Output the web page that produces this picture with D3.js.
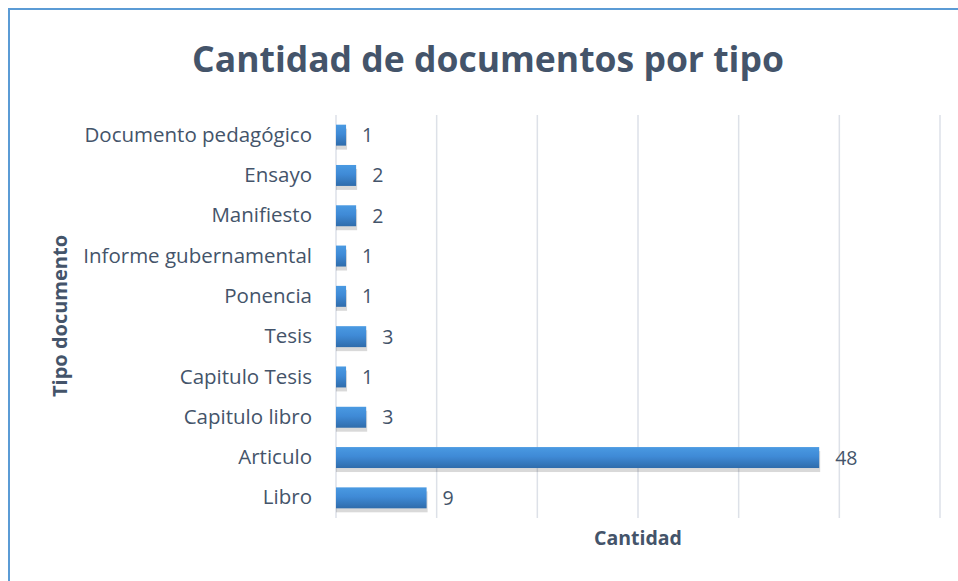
<!DOCTYPE html>
<meta charset="utf-8">
<style>
body { margin: 0; background: #fff; }
text { font-family: "Open Sans", sans-serif; }
</style>
<svg width="958" height="581"></svg>
<script src="https://d3js.org/d3.v7.min.js"></script>
<script>

// data, top to bottom as shown
var categories = ["Documento pedagógico", "Ensayo", "Manifiesto", "Informe gubernamental",
  "Ponencia", "Tesis", "Capitulo Tesis", "Capitulo libro", "Articulo", "Libro"];
var cantidad = [1, 2, 2, 1, 1, 3, 1, 3, 48, 9];
var gridTicks = [0, 10, 20, 30, 40, 50, 60];

var svg = d3.select("svg"),
    margin = {top: 115, right: 18, bottom: 63, left: 336},
    width = +svg.attr("width") - margin.left - margin.right,
    height = +svg.attr("height") - margin.top - margin.bottom;

// chart frame (runs off right/bottom edges)
svg.append("rect")
  .attr("x", 9).attr("y", 9)
  .attr("width", 1000).attr("height", 700)
  .attr("fill", "none")
  .attr("stroke", "#5b9bd5")
  .attr("stroke-width", 2);

var defs = svg.append("defs");
var grad = defs.append("linearGradient")
  .attr("id", "barGrad")
  .attr("x1", 0).attr("y1", 0).attr("x2", 0).attr("y2", 1);
grad.append("stop").attr("offset", "0%").attr("stop-color", "#4a9ae2");
grad.append("stop").attr("offset", "45%").attr("stop-color", "#3f8ad6");
grad.append("stop").attr("offset", "100%").attr("stop-color", "#2f6cab");

var g = svg.append("g").attr("transform", "translate(" + margin.left + "," + margin.top + ")");

var x = d3.scaleLinear().domain([0, 60]).range([0, 604]);
var y = d3.scaleBand().domain(categories).range([0, 403])
  .paddingInner(0.48).paddingOuter(0.24);

// gridlines
g.append("g")
  .selectAll("line")
  .data(gridTicks)
  .enter().append("line")
    .attr("x1", function(d) { return x(d); })
    .attr("x2", function(d) { return x(d); })
    .attr("y1", 0)
    .attr("y2", 403)
    .attr("stroke", "#dde1e8")
    .attr("stroke-width", 1.5);

var data = categories.map(function(c, i) { return {cat: c, val: cantidad[i]}; });

// shadows
g.append("g")
  .selectAll("rect")
  .data(data)
  .enter().append("rect")
    .attr("x", x(0))
    .attr("y", function(d) { return y(d.cat) + 4; })
    .attr("width", function(d) { return x(d.val) - x(0) + 1; })
    .attr("height", y.bandwidth())
    .attr("fill", "#000")
    .attr("opacity", 0.15);

// bars
g.append("g")
  .selectAll("rect")
  .data(data)
  .enter().append("rect")
    .attr("x", x(0))
    .attr("y", function(d) { return y(d.cat); })
    .attr("width", function(d) { return x(d.val) - x(0); })
    .attr("height", y.bandwidth())
    .attr("fill", "url(#barGrad)");

// value labels
g.append("g")
  .selectAll("text")
  .data(data)
  .enter().append("text")
    .attr("x", function(d) { return x(d.val) + 16; })
    .attr("y", function(d) { return y(d.cat) + y.bandwidth() / 2; })
    .attr("dy", "0.36em")
    .attr("fill", "#44546a")
    .style("font-size", "19.5px")
    .text(function(d) { return d.val; });

// category axis (no line, no ticks)
var yAxis = g.append("g")
  .call(d3.axisLeft(y).tickSize(0).tickPadding(24));
yAxis.select(".domain").remove();
yAxis.selectAll("text")
  .attr("fill", "#44546a")
  .style("font-family", "'Open Sans', sans-serif")
  .style("font-size", "20.5px");

// title
svg.append("text")
  .attr("x", 488)
  .attr("y", 72)
  .attr("text-anchor", "middle")
  .attr("fill", "#44546a")
  .style("font-size", "35.5px")
  .style("font-weight", "bold")
  .text("Cantidad de documentos por tipo");

// axis titles
svg.append("text")
  .attr("x", margin.left + 302)
  .attr("y", 545)
  .attr("text-anchor", "middle")
  .attr("fill", "#44546a")
  .style("font-size", "19.5px")
  .style("font-weight", "bold")
  .text("Cantidad");

svg.append("text")
  .attr("transform", "translate(67,316) rotate(-90)")
  .attr("text-anchor", "middle")
  .attr("fill", "#44546a")
  .style("font-size", "20px")
  .style("font-weight", "bold")
  .text("Tipo documento");

</script>
